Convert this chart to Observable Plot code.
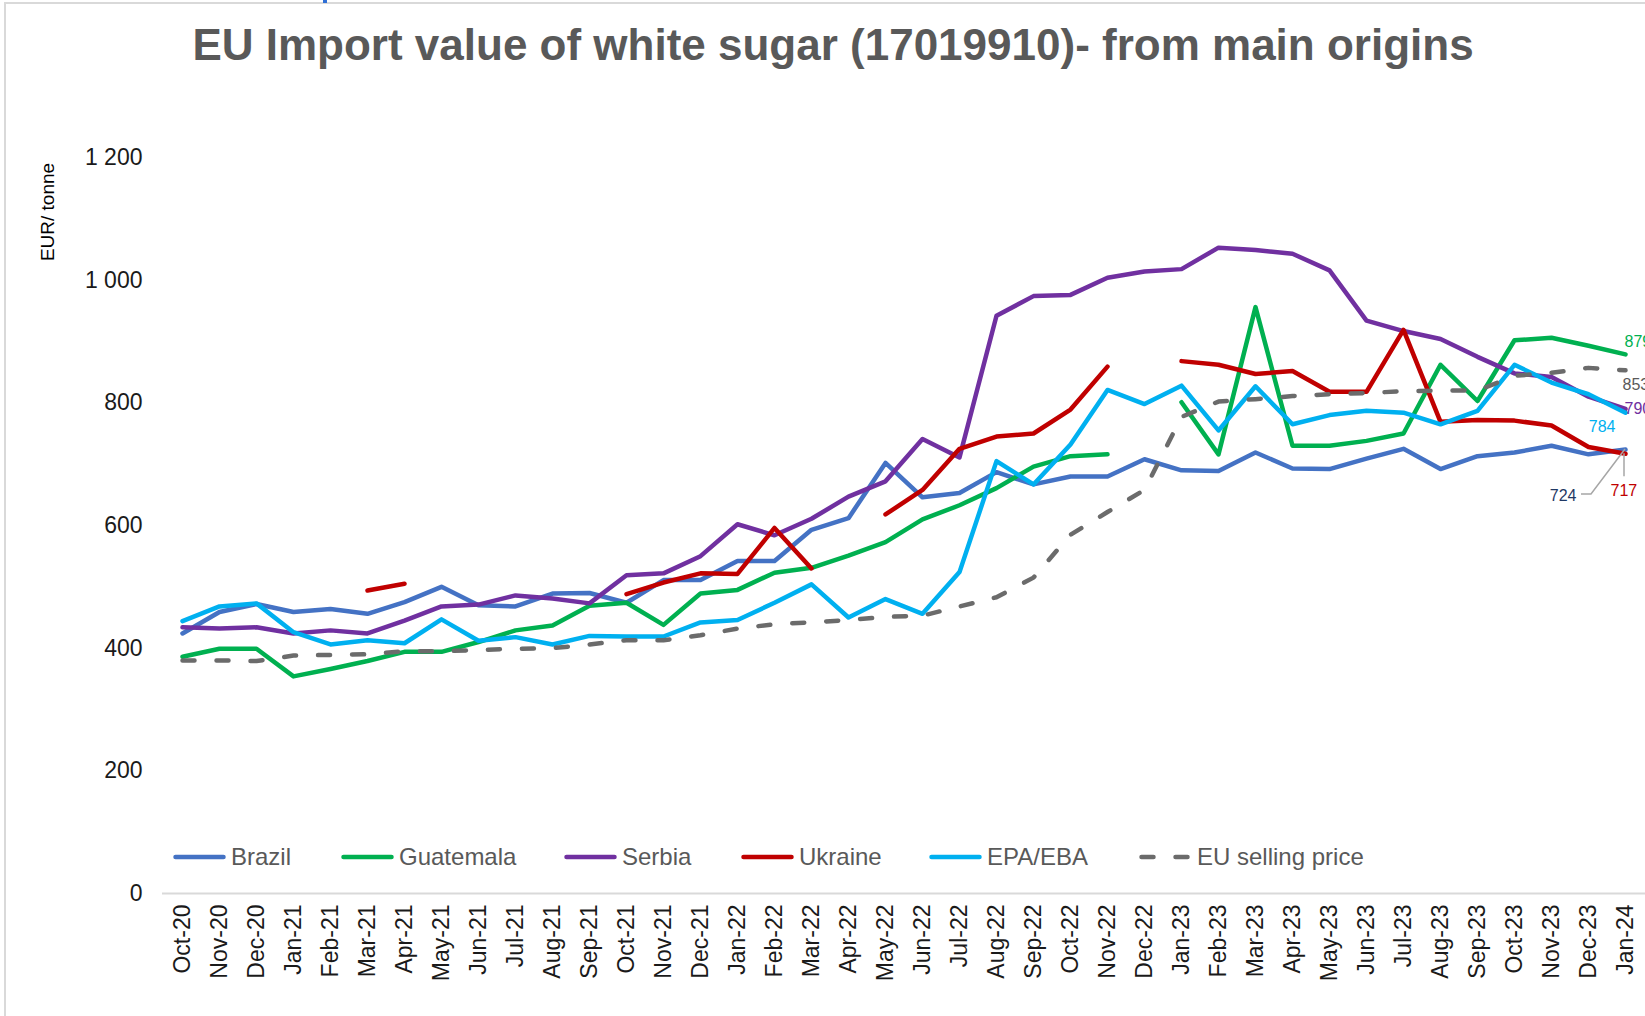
<!DOCTYPE html>
<html>
<head>
<meta charset="utf-8">
<script src="https://cdn.jsdelivr.net/npm/d3@7"></script>
<script src="https://cdn.jsdelivr.net/npm/@observablehq/plot@0.6"></script>
<style>
  html, body { margin: 0; padding: 0; background: #fff; overflow: hidden; }
  #wrap { position: relative; width: 1645px; height: 1016px; font-family: "Liberation Sans", Arial, sans-serif; }
  #title { position: relative; height: 100px; }
  #title span { position: absolute; left: 833px; top: 45px; transform: translate(-50%, -50%); white-space: nowrap;
    font-size: 44px; font-weight: bold; color: #595959; }
  #plot { position: relative; height: 916px; }
  #ylab { position: absolute; left: 48px; top: 212px; transform: translate(-50%, -50%) rotate(-90deg);
    font-size: 19px; color: #000; white-space: nowrap; }
  .leg { position: absolute; top: 857px; transform: translateY(-50%); display: flex; align-items: center;
    font-size: 24px; color: #595959; white-space: nowrap; }
  .leg svg { margin-right: 5px; }
  .bt { position: absolute; left: 4px; right: 0; top: 2px; height: 2px; background: #d9d9d9; }
  .bl { position: absolute; left: 4px; top: 2px; bottom: 0; width: 2px; background: #d9d9d9; }
  .blue { position: absolute; left: 323px; top: 0; width: 4px; height: 3px; background: #2f6fd6; }
</style>
</head>
<body>
<div id="wrap">
  <div class="bt"></div><div class="bl"></div><div class="blue"></div>
  <div id="title"><span>EU Import value of white sugar (17019910)- from main origins</span></div>
  <div id="plot"></div>
  <div id="ylab">EUR/ tonne</div>
</div>
<script>
const months = ["Oct-20","Nov-20","Dec-20","Jan-21","Feb-21","Mar-21","Apr-21","May-21","Jun-21","Jul-21","Aug-21","Sep-21",
  "Oct-21","Nov-21","Dec-21","Jan-22","Feb-22","Mar-22","Apr-22","May-22","Jun-22","Jul-22","Aug-22","Sep-22",
  "Oct-22","Nov-22","Dec-22","Jan-23","Feb-23","Mar-23","Apr-23","May-23","Jun-23","Jul-23","Aug-23","Sep-23",
  "Oct-23","Nov-23","Dec-23","Jan-24"];

const brazil = [424,459,472,459,464,456,475,500,470,468,489,490,
  474,511,511,542,542,593,612,702,646,653,687,667,
  680,680,708,690,689,719,693,692,709,725,692,713,
  719,730,716,724];

const guatemala = [386,399,399,354,366,379,394,394,410,429,437,469,
  474,438,489,495,523,531,551,573,610,633,661,696,
  713,716,null,801,716,956,730,730,738,750,862,803,
  902,906,893,879];

const serbia = [434,432,434,424,429,424,445,468,471,486,481,473,
  519,522,550,602,584,611,647,672,741,711,942,974,
  976,1004,1014,1018,1053,1049,1043,1016,934,917,904,875,
  848,842,810,790];

const ukraine = [null,null,null,null,null,494,505,null,null,null,null,null,
  488,507,522,521,596,530,null,618,658,725,745,750,
  789,859,null,868,862,847,852,818,818,919,769,772,
  771,763,728,717];

const epaEba = [444,468,473,426,406,413,408,447,412,418,406,420,
  419,419,442,446,474,504,450,480,456,524,705,667,
  732,821,798,828,755,827,765,780,787,784,765,787,
  862,833,814,784];

const euPrice = [380,380,379,388,389,390,395,395,397,399,400,406,
  413,413,421,432,439,442,446,451,453,468,483,515,
  585,622,658,777,802,806,811,814,816,819,820,820,
  844,849,857,853];

const seriesNames = ["Brazil","Guatemala","Serbia","Ukraine","EPA/EBA","EU selling price"];
const seriesColors = ["#4472C4","#00B050","#7030A0","#C00000","#00B0F0","#6B6B6B"];
const yTicks = [0,200,400,600,800,1000,1200];

const seriesValues = [brazil, guatemala, serbia, ukraine, epaEba, euPrice];
const rows = [];
seriesNames.forEach((s, k) => {
  months.forEach((m, i) => {
    const v = seriesValues[k][i];
    rows.push({month: m, series: s, value: v == null ? NaN : v});
  });
});
const solidRows = rows.filter(d => d.series !== "EU selling price");
const dashRows = rows.filter(d => d.series === "EU selling price");
const lastMonth = months[months.length - 1];
const last = name => rows.find(d => d.series === name && d.month === lastMonth);

const labelStyle = (name, dx, dy, anchor, fill) =>
  Plot.text([last(name)], {x: "month", y: "value", text: d => String(d.value), dx, dy, textAnchor: anchor,
    fill, fontSize: 16, fontFamily: "Liberation Sans, Arial, sans-serif"});

function leaders(index, scales) {
  const ns = "http://www.w3.org/2000/svg";
  const g = document.createElementNS(ns, "g");
  const px = scales.x(lastMonth);
  const pb = scales.y(last("Brazil").value);
  const pu = scales.y(last("Ukraine").value);
  const p1 = document.createElementNS(ns, "path");
  p1.setAttribute("d", `M${px},${pb}L${px - 34},${pb + 45}L${px - 44},${pb + 45}`);
  const p2 = document.createElementNS(ns, "path");
  p2.setAttribute("d", `M${px - 1},${pu}L${px - 1},${pu + 23}`);
  for (const p of [p1, p2]) {
    p.setAttribute("fill", "none");
    p.setAttribute("stroke", "#A6A6A6");
    p.setAttribute("stroke-width", "1.5");
    g.appendChild(p);
  }
  return g;
}

const chart = Plot.plot({
  width: 1645,
  height: 916,
  marginTop: 57,
  marginBottom: 123,
  marginLeft: 162,
  marginRight: 0,
  style: {fontSize: "23px", fontFamily: "Liberation Sans, Arial, sans-serif", color: "#1a1a1a", background: "transparent", overflow: "visible"},
  x: {type: "point", domain: months, padding: 0.5},
  y: {domain: [0, 1200]},
  color: {domain: seriesNames, range: seriesColors},
  marks: [
    Plot.ruleY([0], {stroke: "#d9d9d9", strokeWidth: 2}),
    Plot.axisY({ticks: yTicks, tickSize: 0, tickPadding: 20, label: null,
      tickFormat: d => d3.format(",")(d).replace(/,/g, " ")}),
    Plot.axisX({tickRotate: -90, tickSize: 0, tickPadding: 11, label: null}),
    Plot.line(solidRows, {x: "month", y: "value", z: "series", stroke: "series", strokeWidth: 4.5,
      strokeLinejoin: "round", strokeLinecap: "round"}),
    Plot.line(dashRows, {x: "month", y: "value", stroke: "series", strokeWidth: 4.5,
      strokeDasharray: "12,22", strokeLinecap: "round", strokeLinejoin: "round"}),
    leaders,
    labelStyle("Guatemala", -1, -13, "start", "#00B050"),
    labelStyle("EU selling price", -3, 15, "start", "#595959"),
    labelStyle("Serbia", -1, 0, "start", "#7030A0"),
    labelStyle("EPA/EBA", -10, 14, "end", "#00B0F0"),
    labelStyle("Brazil", -49, 46, "end", "#1F3864"),
    labelStyle("Ukraine", -15, 37, "start", "#C00000")
  ]
});
document.getElementById("plot").appendChild(chart);

// Legend
const legendX = [173, 341, 564, 741, 929, 1139];
const wrap = document.getElementById("wrap");
seriesNames.forEach((s, k) => {
  const item = document.createElement("div");
  item.className = "leg";
  item.style.left = legendX[k] + "px";
  const dash = s === "EU selling price" ? 'stroke-dasharray="12,22"' : "";
  item.innerHTML = `<svg width="53" height="10"><line x1="2.5" y1="5" x2="50.5" y2="5" stroke="${seriesColors[k]}" stroke-width="4.5" stroke-linecap="round" ${dash}/></svg><span>${s}</span>`;
  wrap.appendChild(item);
});
</script>
</body>
</html>
